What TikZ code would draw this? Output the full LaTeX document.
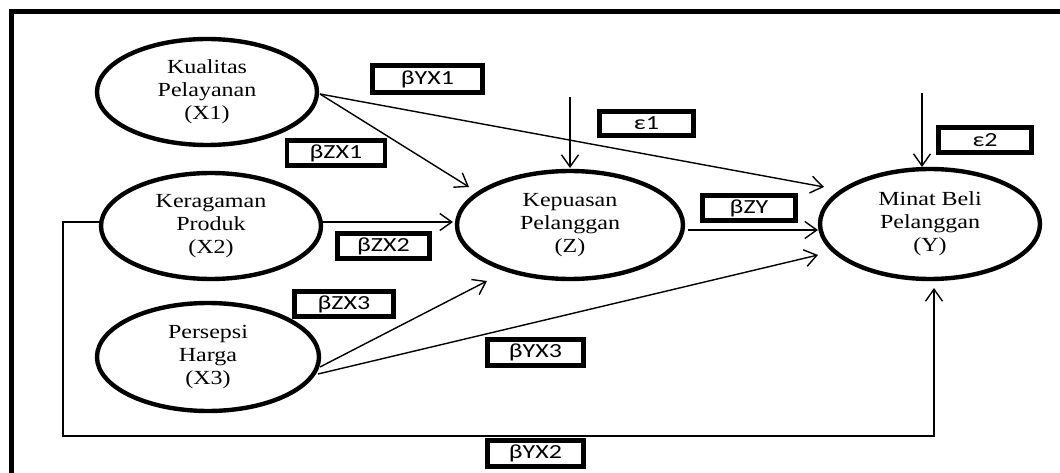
\documentclass[tikz,border=0pt]{standalone}
\usepackage{fontspec}
\usepackage{graphicx}
\setmainfont{Liberation Serif}
\newfontfamily\boxfont{Carlito}
\usetikzlibrary{shapes.geometric,arrows.meta,calc}
\newcommand{\vtext}[1]{\scalebox{1.2}[1]{\begin{tabular}{@{}c@{}}#1\end{tabular}}}
\newcommand{\btext}[1]{\scalebox{1.3}[1]{#1}}
\tikzset{
  var/.style={ellipse, draw, line width=4.4pt, inner sep=0pt,
    font=\fontsize{20}{23}\selectfont},
  coef/.style={draw, line width=4.2pt, inner sep=0pt, font=\boxfont\fontsize{20}{24}\selectfont},
  arr/.style={-{Straight Barb[length=12pt,width=17pt]}, line width=1.4pt},
}
\begin{document}
\begin{tikzpicture}[x=1pt,y=-1pt]
\useasboundingbox (0,0) rectangle (1060,473);
% frame
\draw[line width=4.2pt] (11.5,473) -- (11.5,11.5) -- (1060,11.5);
% variables
\node[var, minimum width=220pt, minimum height=106pt] (X1) at (207,92) {\vtext{Kualitas\\Pelayanan\\(X1)}};
\node[var, minimum width=220pt, minimum height=106pt] (X2) at (211,226) {\vtext{Keragaman\\Produk\\(X2)}};
\node[var, minimum width=222pt, minimum height=108pt] (X3) at (208,357) {\vtext{Persepsi\\Harga\\(X3)}};
\node[var, minimum width=226pt, minimum height=108pt] (Z) at (570,225) {\vtext{Kepuasan\\Pelanggan\\(Z)}};
\node[var, minimum width=220pt, minimum height=110pt] (Y) at (930,224) {\vtext{Minat Beli\\Pelanggan\\(Y)}};
% coefficient boxes
\node[coef, minimum width=110pt, minimum height=27pt] (byx1) at (427.5,79) {\btext{βYX1}};
\node[coef, minimum width=98pt, minimum height=25pt] (bzx1) at (336,153) {\btext{βZX1}};
\node[coef, minimum width=94pt, minimum height=24pt] (e1) at (646.5,123.5) {\btext{ε1}};
\node[coef, minimum width=93pt, minimum height=25pt] (e2) at (985,140) {\btext{ε2}};
\node[coef, minimum width=93pt, minimum height=25pt] (bzy) at (749,208) {\btext{βZY}};
\node[coef, minimum width=92pt, minimum height=25pt] (bzx2) at (383.5,246) {\btext{βZX2}};
\node[coef, minimum width=99pt, minimum height=25pt] (bzx3) at (344,304) {\btext{βZX3}};
\node[coef, minimum width=96pt, minimum height=26pt] (byx3) at (535.5,352.5) {\btext{βYX3}};
\node[coef, minimum width=96pt, minimum height=26pt] (byx2) at (535.5,453.5) {\btext{βYX2}};
% error term starts and routing corners
\coordinate (e1top) at (570,97);
\coordinate (e2top) at (922,93);
\coordinate (c1) at (63,222);
\coordinate (c2) at (63,436);
\coordinate (c3) at (934,436);
% connectors
\draw[arr] ($(X1)+(113,2)$) -- ($(Z)+(-101,-38)$);
\draw[arr] ($(X1)+(113,2)$) -- ($(Y)+(-106,-37)$);
\draw[arr] ($(X2)+(111,-4)$) -- ($(Z)+(-117,-3)$);
\draw[arr] ($(Z)+(118,5)$) -- ($(Y)+(-112,6)$);
\draw[arr] ($(X3)+(112,10)$) -- ($(Z)+(-83,56)$);
\draw[arr] ($(X3)+(110,17)$) -- ($(Y)+(-112,31)$);
\draw[arr] (e1top) -- ($(Z)+(0,-57)$);
\draw[arr] (e2top) -- ($(Y)+(-8,-57)$);
\draw[arr] ($(X2)+(-111,-4)$) -- (c1) -- (c2) -- (c3) -- ($(Y)+(4,64)$);
\end{tikzpicture}
\end{document}
